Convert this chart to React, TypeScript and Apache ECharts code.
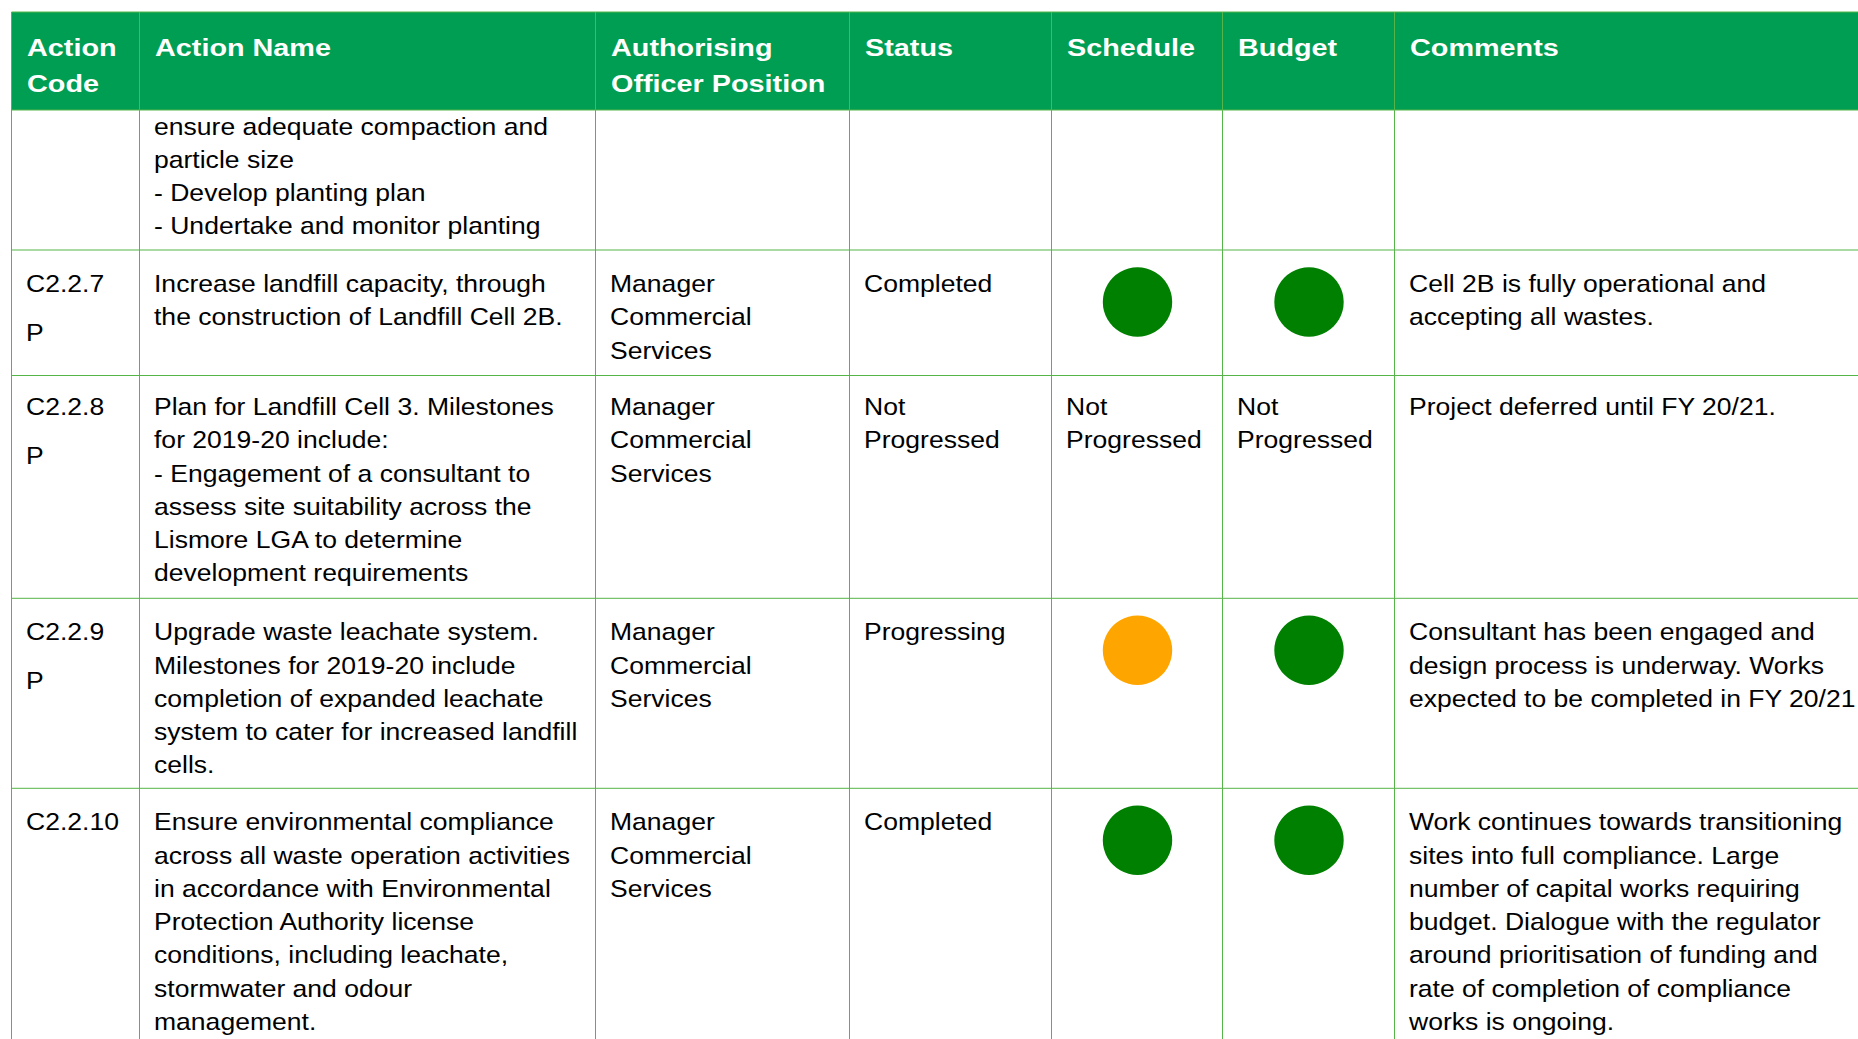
import React, { useEffect, useRef } from "react";
import * as echarts from "echarts";

// ---------- DATA ----------
const headers: string[][] = [
  ["Action", "Code"],
  ["Action Name"],
  ["Authorising", "Officer Position"],
  ["Status"],
  ["Schedule"],
  ["Budget"],
  ["Comments"],
];

const actionCodes: string[][] = [
  [],
  ["C2.2.7", "P"],
  ["C2.2.8", "P"],
  ["C2.2.9", "P"],
  ["C2.2.10"],
];

const actionNames: string[][] = [
  ["ensure adequate compaction and", "particle size", "- Develop planting plan", "- Undertake and monitor planting"],
  ["Increase landfill capacity, through", "the construction of Landfill Cell 2B."],
  [
    "Plan for Landfill Cell 3. Milestones",
    "for 2019-20 include:",
    "- Engagement of a consultant to",
    "assess site suitability across the",
    "Lismore LGA to determine",
    "development requirements",
  ],
  [
    "Upgrade waste leachate system.",
    "Milestones for 2019-20 include",
    "completion of expanded leachate",
    "system to cater for increased landfill",
    "cells.",
  ],
  [
    "Ensure environmental compliance",
    "across all waste operation activities",
    "in accordance with Environmental",
    "Protection Authority license",
    "conditions, including leachate,",
    "stormwater and odour",
    "management.",
  ],
];

const officers: string[][] = [
  [],
  ["Manager", "Commercial", "Services"],
  ["Manager", "Commercial", "Services"],
  ["Manager", "Commercial", "Services"],
  ["Manager", "Commercial", "Services"],
];

const statuses: string[][] = [[], ["Completed"], ["Not", "Progressed"], ["Progressing"], ["Completed"]];

// rating: "green" | "amber" | "none" (text) | "" (empty)
const scheduleRatings: string[] = ["", "green", "none", "amber", "green"];
const budgetRatings: string[] = ["", "green", "none", "green", "green"];
const notProgressedText: string[] = ["Not", "Progressed"];

const comments: string[][] = [
  [],
  ["Cell 2B is fully operational and", "accepting all wastes."],
  ["Project deferred until FY 20/21."],
  ["Consultant has been engaged and", "design process is underway. Works", "expected to be completed in FY 20/21"],
  [
    "Work continues towards transitioning",
    "sites into full compliance. Large",
    "number of capital works requiring",
    "budget. Dialogue with the regulator",
    "around prioritisation of funding and",
    "rate of completion of compliance",
    "works is ongoing.",
  ],
];

// ---------- LAYOUT ----------
const W = 1858;
const H = 1039;
const COL_X = [11.5, 139.5, 595.5, 849.5, 1051.5, 1222.5, 1394.5, 1920];
const ROW_Y = [12, 110, 250, 375.5, 598.3, 788.3, 1100];
const ROW_TEXT_SHIFT = [0, 0, -2.5, 0, 0];
const PAD_X = 15;
const FONT = '"Liberation Sans", Arial, Helvetica, sans-serif';
const FS = 24;
const LINE = 33.3;
const FIRST = 33.4; // row top -> first line center
const BODY_STRETCH = 1.106;
const HEAD_STRETCH = 1.2;
const HEADER_GREEN = "#009E52";
const GRID = "#55B548";
const RATING_COLORS: Record<string, string> = { green: "#008000", amber: "#FFA500" };

function txt(x: number, y: number, text: string, bold = false, fill = "#000") {
  return {
    type: "text",
    x,
    y,
    scaleX: bold ? HEAD_STRETCH : BODY_STRETCH,
    silent: true,
    style: {
      text,
      fill,
      fontSize: FS,
      fontFamily: FONT,
      fontWeight: bold ? "bold" : "normal",
      align: "left",
      verticalAlign: "middle",
      textAlign: "left",
      textVerticalAlign: "middle",
    },
  };
}

function buildElements() {
  const els: any[] = [];
  // header background
  els.push({
    type: "rect",
    shape: { x: COL_X[0], y: ROW_Y[0], width: W, height: ROW_Y[1] - ROW_Y[0] },
    style: { fill: HEADER_GREEN },
    silent: true,
  });
  // header texts
  const headerCenters = [47.8, 83.4];
  headers.forEach((lines, c) => {
    lines.forEach((l, i) => els.push(txt(COL_X[c] + PAD_X + 0.5, headerCenters[i], l, true, "#fff")));
  });

  // body
  for (let r = 0; r < actionNames.length; r++) {
    const top = ROW_Y[r + 1];
    const first = (r === 0 ? 126 - top : FIRST) + ROW_TEXT_SHIFT[r];
    const put = (c: number, lines: string[], step = LINE) =>
      lines.forEach((l, i) => els.push(txt(COL_X[c] + PAD_X - 0.5, top + first + i * step, l)));
    put(0, actionCodes[r], 49.2);
    put(1, actionNames[r]);
    put(2, officers[r]);
    put(3, statuses[r]);
    [scheduleRatings[r], budgetRatings[r]].forEach((rt, k) => {
      const c = 4 + k;
      if (rt === "none") put(c, notProgressedText);
      else if (RATING_COLORS[rt]) {
        els.push({
          type: "circle",
          silent: true,
          shape: { cx: (COL_X[c] + COL_X[c + 1]) / 2 + 0.5, cy: top + 52, r: 34.7 },
          style: { fill: RATING_COLORS[rt] },
        });
      }
    });
    put(6, comments[r]);
  }

  // grid lines
  for (let c = 0; c < 7; c++) {
    els.push({
      type: "line",
      silent: true,
      shape: { x1: COL_X[c], y1: ROW_Y[0], x2: COL_X[c], y2: H + 10 },
      style: { stroke: GRID, lineWidth: 1 },
    });
  }
  for (let r = 0; r < 6; r++) {
    els.push({
      type: "line",
      silent: true,
      shape: { x1: COL_X[0], y1: ROW_Y[r], x2: W + 10, y2: ROW_Y[r] },
      style: { stroke: GRID, lineWidth: 1 },
    });
  }
  return els;
}

export default function App() {
  const ref = useRef<HTMLDivElement>(null);
  useEffect(() => {
    if (!ref.current) return;
    const chart = echarts.init(ref.current, null, { renderer: "svg", width: W, height: H });
    chart.setOption({
      animation: false,
      backgroundColor: "#fff",
      graphic: { elements: buildElements() },
    });
    return () => chart.dispose();
  }, []);
  return (
    <div
      ref={ref}
      style={{ position: "fixed", left: 0, top: 0, width: W, height: H, background: "#fff" }}
    />
  );
}
